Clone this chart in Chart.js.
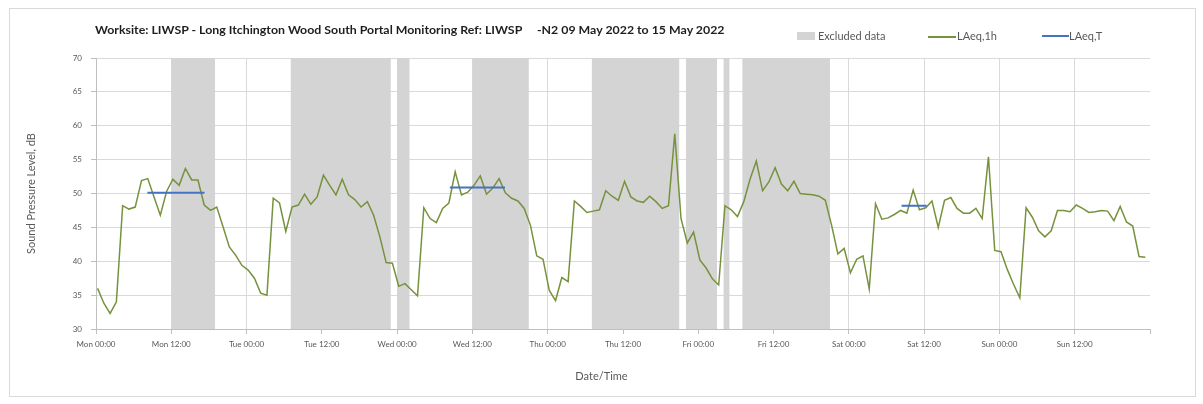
<!DOCTYPE html>
<html>
<head>
<meta charset="utf-8">
<script src="https://cdn.jsdelivr.net/npm/chart.js@4"></script>
<style>
  body { margin: 0; background: #fff; }
  #wrap { position: relative; width: 1203px; height: 404px; overflow: hidden; }
  #frame { position: absolute; left: 9px; top: 8px; width: 1185px; height: 387px; border: 1px solid #d9d9d9; }
  canvas { position: absolute; left: 0; top: 0; }
  #title { position: absolute; left: 95px; top: 23px; font: bold 11px Lato, sans-serif; color: #1e1e1e; white-space: pre; transform-origin: 0 0; }
  .leg { position: absolute; top: 29px; font: 11px Lato, sans-serif; color: #595959; white-space: pre; line-height: 14px; }
  .mark { position: absolute; }
  #xtitle { position: absolute; left: 0; width: 1203px; top: 369px; text-align: center; font: 11px Lato, sans-serif; color: #595959; }
</style>
</head>
<body>
<div id="wrap">
  <div id="frame"></div>
  <canvas id="chart" width="1203" height="404"></canvas>
  <div id="title">Worksite: LIWSP - Long Itchington Wood South Portal Monitoring Ref: LIWSP     -N2 09 May 2022 to 15 May 2022</div>
  <div class="mark" style="left:797px;top:32px;width:18px;height:8px;background:#d4d4d4"></div>
  <div class="leg" style="left:818px">Excluded data</div>
  <div class="mark" style="left:928px;top:36px;width:28px;height:1.5px;background:#76923c"></div>
  <div class="leg" style="left:957px">LAeq,1h</div>
  <div class="mark" style="left:1042px;top:35px;width:27px;height:2px;background:#4472c4"></div>
  <div class="leg" style="left:1069px">LAeq,T</div>
  <div id="xtitle">Date/Time</div>
</div>
<script>
// hourly LAeq,1h values, one array per day (00:00 .. 23:00)
const mon = [36.0, 33.8, 32.3, 34.0, 48.2, 47.7, 48.0, 51.9, 52.2, 49.5, 46.8, 50.3, 52.1, 51.2, 53.7, 52.0, 52.0, 48.3, 47.5, 48.0, 45.1, 42.1, 40.9, 39.4];
const tue = [38.7, 37.5, 35.3, 35.0, 49.3, 48.6, 44.4, 48.0, 48.3, 49.9, 48.4, 49.5, 52.7, 51.2, 49.8, 52.1, 49.8, 49.1, 48.0, 48.8, 46.8, 43.6, 39.8, 39.7];
const wed = [36.3, 36.7, 35.8, 34.9, 47.9, 46.3, 45.7, 47.8, 48.6, 53.2, 49.8, 50.2, 51.2, 52.6, 49.9, 50.8, 52.2, 50.1, 49.3, 48.9, 47.8, 45.3, 40.8, 40.3];
const thu = [35.7, 34.2, 37.6, 37.0, 48.9, 48.1, 47.2, 47.4, 47.6, 50.4, 49.6, 49.0, 51.8, 49.5, 48.9, 48.7, 49.6, 48.8, 47.8, 48.2, 58.8, 46.3, 42.7, 44.3];
const fri = [40.2, 39.0, 37.4, 36.5, 48.2, 47.6, 46.6, 48.8, 52.1, 54.8, 50.4, 51.7, 53.8, 51.4, 50.4, 51.8, 50.0, 49.9, 49.8, 49.6, 49.0, 45.3, 41.1, 41.9];
const sat = [38.3, 40.3, 40.8, 35.9, 48.5, 46.2, 46.4, 46.9, 47.5, 47.1, 50.5, 47.6, 47.9, 48.9, 45.0, 49.0, 49.4, 47.8, 47.1, 47.1, 47.8, 46.3, 55.4, 41.6];
const sun = [41.4, 38.8, 36.6, 34.6, 47.9, 46.5, 44.5, 43.6, 44.5, 47.5, 47.5, 47.3, 48.3, 47.8, 47.2, 47.3, 47.5, 47.4, 46.0, 48.1, 45.8, 45.2, 40.7, 40.6];
const laeq1h = [...mon, ...tue, ...wed, ...thu, ...fri, ...sat, ...sun];
const sampleOffset = 0.25; // hours past the hour for each reading

// LAeq,T periods (hours from Mon 00:00)
const laeqTStart = [8.2, 56.4, 128.4];
const laeqTEnd = [17.3, 65.2, 132.4];
const laeqTValue = [50.1, 50.9, 48.2];

// excluded data periods (hours from Mon 00:00)
const excludedStart = [12, 31, 48, 60, 79, 94, 100, 103];
const excludedEnd = [19, 47, 50, 69, 93, 99, 101, 117];

const dayNames = ['Mon', 'Tue', 'Wed', 'Thu', 'Fri', 'Sat', 'Sun'];
const yTicks = [30, 35, 40, 45, 50, 55, 60, 65, 70];

// fit the title to its width in the original
const titleEl = document.getElementById('title');
titleEl.style.transform = 'scaleX(' + (630 / titleEl.offsetWidth) + ')';

const datasets = [];
excludedStart.forEach((s, i) => {
    datasets.push({
        label: 'Excluded data',
        data: [{x: s, y: 70}, {x: excludedEnd[i], y: 70}],
        fill: 'start',
        backgroundColor: '#d4d4d4',
        borderWidth: 0,
        pointRadius: 0,
        order: 3
    });
});

datasets.push({
    label: 'LAeq,1h',
    data: laeq1h.map((v, i) => ({x: i + sampleOffset, y: v})),
    borderColor: '#76923c',
    borderWidth: 1.5,
    pointRadius: 0,
    tension: 0,
    fill: false,
    order: 2
});

const tData = [];
laeqTStart.forEach((s, i) => {
    tData.push({x: s, y: laeqTValue[i]}, {x: laeqTEnd[i], y: laeqTValue[i]}, {x: laeqTEnd[i] + 0.01, y: null});
});
datasets.push({
    label: 'LAeq,T',
    data: tData,
    borderColor: '#4472c4',
    borderWidth: 2,
    pointRadius: 0,
    spanGaps: false,
    fill: false,
    order: 1
});

const ctx = document.getElementById('chart').getContext('2d');
new Chart(ctx, {
    type: 'line',
    data: { datasets: datasets },
    options: {
        responsive: false,
        animation: false,
        layout: { padding: { top: 58, right: 53, left: 0, bottom: 0 } },
        plugins: { legend: { display: false }, tooltip: { enabled: false } },
        scales: {
            x: {
                type: 'linear',
                min: 0,
                max: 168,
                afterFit: s => { s.height = 75; },
                afterBuildTicks: s => { s.ticks = []; for (let h = 0; h <= 168; h += 12) s.ticks.push({value: h}); },
                ticks: {
                    color: '#595959',
                    font: { family: 'Lato', size: 8 },
                    padding: 6,
                    maxRotation: 0,
                    autoSkip: false,
                    callback: v => v >= 168 ? '' : dayNames[Math.floor(v / 24)] + (v % 24 === 0 ? ' 00:00' : ' 12:00')
                },
                grid: {
                    color: c => (c.tick && c.tick.value >= 168) ? 'rgba(0,0,0,0)' : '#d9d9d9',
                    tickColor: '#bfbfbf',
                    tickLength: 5
                },
                border: { color: '#bfbfbf' }
            },
            y: {
                min: 30,
                max: 70,
                afterFit: s => { s.width = 96; },
                afterBuildTicks: s => { s.ticks = yTicks.map(v => ({value: v})); },
                ticks: { color: '#595959', font: { family: 'Lato', size: 8 }, padding: 9 },
                grid: { color: '#d9d9d9', tickColor: '#bfbfbf', tickLength: 5 },
                border: { color: '#bfbfbf' },
                title: {
                    display: true,
                    text: 'Sound Pressure Level, dB',
                    color: '#595959',
                    font: { family: 'Lato', size: 11 },
                    padding: { top: 25 }
                }
            }
        }
    }
});
</script>
</body>
</html>
